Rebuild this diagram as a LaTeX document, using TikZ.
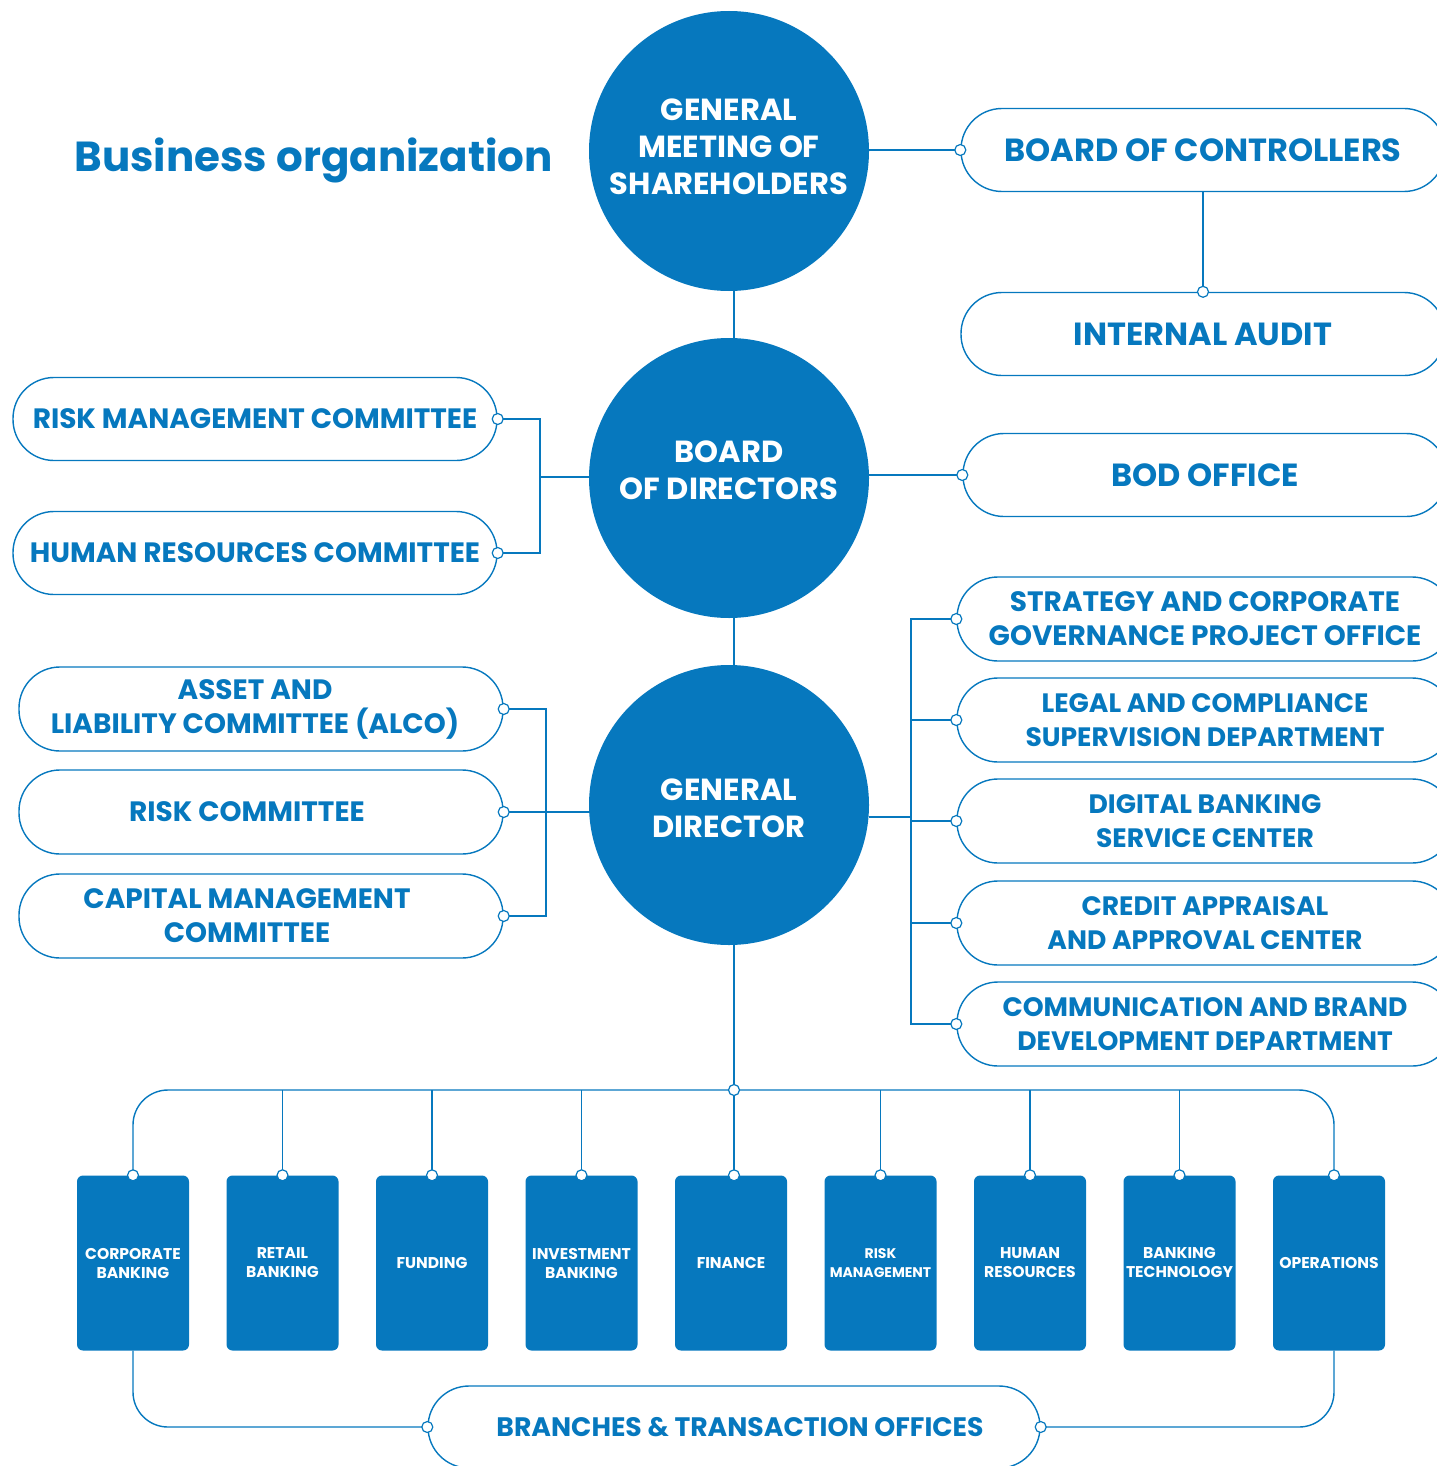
\documentclass[tikz,border=0pt]{standalone}
\usepackage{fontspec}
\setmainfont{Poppins}
\usepackage{tikz}
\definecolor{bankblue}{RGB}{6,120,190}

\begin{document}
\begin{tikzpicture}[x=1pt,y=-1pt]
				\tikzstyle{head}=[circle,fill=bankblue,minimum size=280pt,inner sep=0pt]
				\tikzstyle{headtext}=[text=white,align=center,font=\bfseries\fontsize{30.5}{37}\selectfont]
				\tikzstyle{pill}=[draw=bankblue,line width=1.4pt,rounded corners=41pt,minimum width=484pt,minimum height=83pt,inner sep=0pt,text=bankblue,align=center,font=\bfseries\fontsize{32}{34}\selectfont]
				\tikzstyle{subpill}=[pill,minimum width=496pt,minimum height=84pt,font=\bfseries\fontsize{26.6}{34}\selectfont]
				\tikzstyle{unit}=[fill=bankblue,rounded corners=6pt,minimum width=112pt,minimum height=175pt,inner sep=0pt,text=white,align=center]
				\tikzstyle{dot}=[circle,draw=bankblue,fill=white,line width=1.2pt,inner sep=0pt,minimum size=11pt]
				\tikzstyle{link}=[draw=bankblue,line width=1.4pt]
				\useasboundingbox (0,0) rectangle (1436,1466);
				\node[anchor=base west,text=bankblue,font=\bfseries\fontsize{42}{50}\selectfont] (title) at (71,172) {Business organization};
				% main bodies
				\node[head](gm) at (729,151) {};
				\node[head](bd) at (729,478) {};
				\node[head](gd) at (729,805) {};
				\node[headtext](gmt) at ([yshift=4.5pt]gm) {GENERAL\\MEETING OF\\SHAREHOLDERS};
				\node[headtext](bdt) at ([yshift=8pt]bd) {BOARD\\OF DIRECTORS};
				\node[headtext](gdt) at ([yshift=-3pt]gd) {GENERAL\\DIRECTOR};
				% right side
				\node[pill](boc) at (1203,150) {BOARD OF CONTROLLERS};
				\node[pill](ia) at (1203,334) {INTERNAL AUDIT};
				\node[pill](bdo) at (1205,475) {BOD OFFICE};
				\node[subpill,font=\bfseries\fontsize{28}{34}\selectfont](s1) at (1205,619) {STRATEGY AND CORPORATE\\GOVERNANCE PROJECT OFFICE};
				\node[subpill](s2) at (1205,720) {LEGAL AND COMPLIANCE\\SUPERVISION DEPARTMENT};
				\node[subpill](s3) at (1205,821) {DIGITAL BANKING\\SERVICE CENTER};
				\node[subpill](s4) at (1205,923) {CREDIT APPRAISAL\\AND APPROVAL CENTER};
				\node[subpill](s5) at (1205,1024) {COMMUNICATION AND BRAND\\DEVELOPMENT DEPARTMENT};
				% left side
				\node[pill,font=\bfseries\fontsize{28}{34}\selectfont](rmc) at (255,419) {RISK MANAGEMENT COMMITTEE};
				\node[pill,font=\bfseries\fontsize{28}{34}\selectfont](hrc) at (255,553) {HUMAN RESOURCES COMMITTEE};
				\node[subpill,minimum width=484pt,font=\bfseries\fontsize{28}{34}\selectfont](alco) at (261,709) {ASSET AND\hspace*{12pt}\\LIABILITY COMMITTEE (ALCO)\hspace*{12pt}};
				\node[subpill,minimum width=484pt,font=\bfseries\fontsize{28}{34}\selectfont](rc) at (261,812) {RISK COMMITTEE\hspace*{28pt}};
				\node[subpill,minimum width=484pt,font=\bfseries\fontsize{28}{34}\selectfont](cmc) at (261,916) {CAPITAL MANAGEMENT\hspace*{28pt}\\COMMITTEE\hspace*{28pt}};
				% business units
				\foreach \txt/\fs [count=\i] in {{CORPORATE\\BANKING}/15.6,{RETAIL\\BANKING}/15.6,{FUNDING}/15.6,{INVESTMENT\\BANKING}/15.6,{FINANCE}/15.6,{RISK\\MANAGEMENT}/14,{HUMAN\\RESOURCES}/15.6,{BANKING\\TECHNOLOGY}/15.6,{OPERATIONS}/15.6}
					\node[unit,font=\bfseries\fontsize{\fs}{19}\selectfont](u\i) at ({133+149.5*(\i-1)},1263) {\txt};
				\node[pill,minimum width=612pt,minimum height=82pt,font=\bfseries\fontsize{26.7}{34}\selectfont](br) at (734,1427) {\hspace*{12pt}BRANCHES \& TRANSACTION OFFICES};
				% connectors
				\coordinate (j1) at (540,477);
				\coordinate (j2) at (546,812);
				\coordinate (j3) at (911,817);
				\coordinate (bus) at (734,1090);
				\coordinate (opn) at ([xshift=5pt]u9.north);
				\coordinate (ops) at ([xshift=5pt]u9.south);
				\draw[link] (boc.west -| gm.east) -- (boc.west);
				\draw[link] (boc.south) -- (ia.north);
				\draw[link] (gm.south -| bus) -- (bd.north -| bus);
				\draw[link] (bd.south -| bus) -- (gd.north -| bus);
				\draw[link] (bdo.west -| bd.east) -- (bdo.west);
				\draw[link] (rmc.east) -| (j1);
				\draw[link] (hrc.east) -| (j1);
				\draw[link] (j1) -- (j1 -| bd.west);
				\draw[link] (alco.east) -| (j2);
				\draw[link] (cmc.east) -| (j2);
				\draw[link] (rc.east) -- (gd.west |- rc.east);
				\draw[link] (gd.east |- j3) -- (j3);
				\foreach \i in {1,...,5}
					\draw[link] (s\i.west) -| (j3);
				\draw[link] (gd.south -| bus) -- (bus);
				\draw[link,rounded corners=35pt] (u1.north) |- (bus) -| (opn);
				\foreach \i in {2,3,4,6,7,8}
					\draw[link] (u\i.north) -- (u\i.north |- bus);
				\draw[link] (bus) -- (u5.north -| bus);
				\draw[link,rounded corners=35pt] (u1.south) |- (br.west);
				\draw[link,rounded corners=35pt] (ops) |- (br.east);
				% small joints
				\foreach \p in {boc.west,ia.north,bdo.west,rmc.east,hrc.east,alco.east,rc.east,cmc.east,s1.west,s2.west,s3.west,s4.west,s5.west,bus,br.west,br.east,opn}
					\node[dot] at (\p) {};
				\foreach \i in {1,2,3,4,6,7,8}
					\node[dot] at (u\i.north) {};
				\node[dot] at (u5.north -| bus) {};
			\end{tikzpicture}
\end{document}
